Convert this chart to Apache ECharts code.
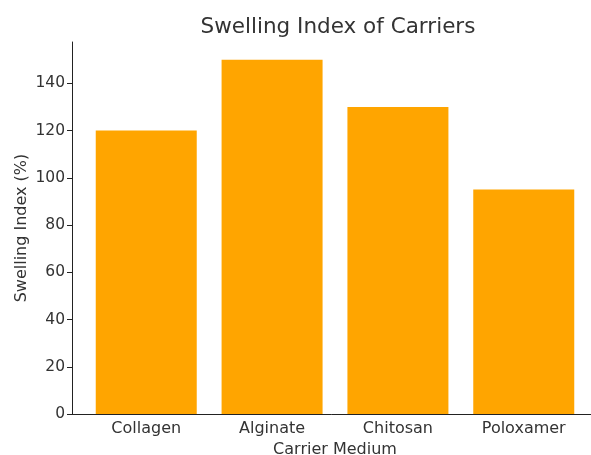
<!DOCTYPE html>
<html>
<head>
<meta charset="utf-8">
<script src="https://cdn.jsdelivr.net/npm/echarts@6/dist/echarts.min.js"></script>
<style>
  html, body { margin: 0; padding: 0; background: #fff; }
  #chart { width: 591px; height: 455px; }
</style>
</head>
<body>
<div id="chart"></div>
<script>
// Carrier media and their swelling index (%)
const categories = ['Collagen', 'Alginate', 'Chitosan', 'Poloxamer'];
const swellingIndex = [120, 150, 130, 95];
const yTicks = [0, 20, 40, 60, 80, 100, 120, 140];

const positions = categories.map((_, i) => i);
const barData = swellingIndex.map((v, i) => [i, v]);

const font = 'DejaVu Sans, Liberation Sans, sans-serif';
const textColor = '#333333';

const chart = echarts.init(document.getElementById('chart'), null, { renderer: 'canvas' });
chart.setOption({
  animation: false,
  backgroundColor: '#ffffff',
  title: {
    text: 'Swelling Index of Carriers',
    left: 333,
    top: 11,
    textAlign: 'center',
    textStyle: { fontFamily: font, fontSize: 21.5, fontWeight: 'normal', color: textColor }
  },
  grid: { left: 72, top: 42, bottom: 41, right: -7, containLabel: false, outerBoundsMode: 'none' },
  xAxis: {
    type: 'value',
    min: -0.59,
    max: 3.59,
    name: 'Carrier Medium',
    nameLocation: 'middle',
    nameGap: 28,
    nameMoveOverlap: false,
    nameTextStyle: { fontFamily: font, fontSize: 16, color: textColor },
    splitLine: { show: false },
    axisLine: { show: true, onZero: false, lineStyle: { color: '#222', width: 1 } },
    axisTick: { show: true, customValues: positions, inside: true, length: 4, lineStyle: { color: '#222' } },
    axisLabel: {
      customValues: positions,
      formatter: v => categories[Math.round(v)],
      fontFamily: font, fontSize: 16, color: textColor, margin: 7
    }
  },
  yAxis: {
    type: 'value',
    min: 0,
    max: 157.5,
    name: 'Swelling Index (%)',
    nameLocation: 'middle',
    nameGap: 42,
    nameMoveOverlap: false,
    nameRotate: 90,
    nameTextStyle: { fontFamily: font, fontSize: 16, color: textColor },
    splitLine: { show: false },
    axisLine: { show: true, onZero: false, lineStyle: { color: '#222', width: 1 } },
    axisTick: { show: true, customValues: yTicks, length: 5, lineStyle: { color: '#222' } },
    axisLabel: {
      customValues: yTicks,
      fontFamily: font, fontSize: 15.5, color: textColor, margin: 7
    }
  },
  series: [{
    type: 'bar',
    data: barData,
    barWidth: 101,
    itemStyle: { color: '#FFA500' }
  }]
});
</script>
</body>
</html>
